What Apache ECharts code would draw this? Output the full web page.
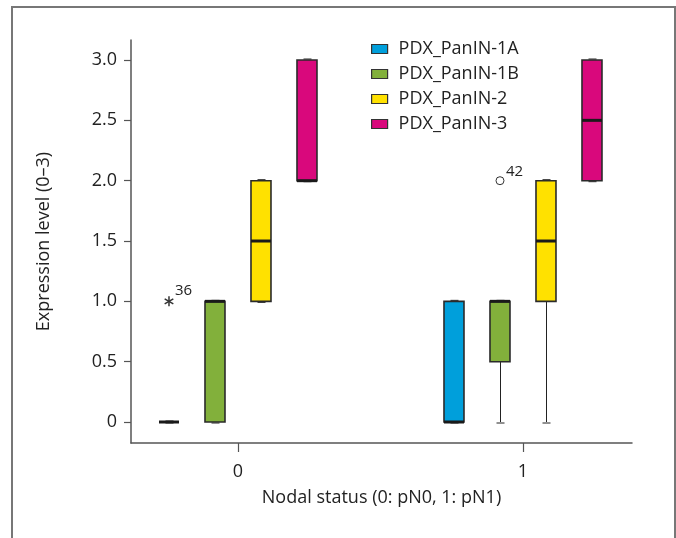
<!DOCTYPE html>
<html>
<head>
<meta charset="utf-8">
<script src="https://cdn.jsdelivr.net/npm/echarts@6/dist/echarts.min.js"></script>
<style>
  html, body { margin: 0; padding: 0; background: #fff; }
  #chart { width: 676px; height: 538px; }
</style>
</head>
<body>
<div id="chart"></div>
<script>
// groups on the x axis (nodal status)
var groups = [0, 1];
var seriesNames = ['PDX_PanIN-1A', 'PDX_PanIN-1B', 'PDX_PanIN-2', 'PDX_PanIN-3'];
var seriesColors = ['#009fdb', '#82b03b', '#ffe100', '#d9087c'];

// box stats per series, one row per group: [min, Q1, median, Q3, max]
var stats1A = [[0, 0, 0, 0, 0], [0, 0, 0, 1, 1]];
var stats1B = [[0, 0, 1, 1, 1], [0, 0.5, 1, 1, 1]];
var stats2 = [[1, 1, 1.5, 2, 2], [0, 1, 1.5, 2, 2]];
var stats3 = [[2, 2, 2, 3, 3], [2, 2, 2.5, 3, 3]];
var allStats = [stats1A, stats1B, stats2, stats3];

// outliers
var outlierGroup = [0, 1];
var outlierSeries = [0, 1];
var outlierValue = [1.0, 2.0];
var outlierCase = ['36', '42'];
var outlierKind = ['extreme', 'outlier'];

var yTicks = [0, 0.5, 1, 1.5, 2, 2.5, 3];

var FONT = 'Open Sans';
var SLOT = 46;   // px between neighbouring boxes
var HALF = 10;   // half box width

function boxRender(params, api) {
  var off = (params.seriesIndex - 1.5) * SLOT;
  var x = api.coord([api.value(0), 0])[0] + off;
  var xc = Math.round(x) + 0.5; // crisp whisker
  function yy(i) { return api.coord([0, api.value(i)])[1]; }
  var yMin = yy(1), yQ1 = yy(2), yMed = yy(3), yQ3 = yy(4), yMax = yy(5);
  var color = seriesColors[params.seriesIndex];
  var wStyle = { stroke: '#222', lineWidth: 1 };
  var kids = [];
  if (yQ1 !== yMin) {
    kids.push({ type: 'line', shape: { x1: xc, y1: yQ1, x2: xc, y2: yMin }, style: wStyle });
  }
  if (yQ3 !== yMax) {
    kids.push({ type: 'line', shape: { x1: xc, y1: yQ3, x2: xc, y2: yMax }, style: wStyle });
  }
  kids.push({ type: 'line', shape: { x1: xc - 4, y1: yMin + 1, x2: xc + 4, y2: yMin + 1 }, style: wStyle });
  kids.push({ type: 'line', shape: { x1: xc - 4, y1: yMax - 1, x2: xc + 4, y2: yMax - 1 }, style: wStyle });
  if (yQ1 !== yQ3) {
    kids.push({
      type: 'rect',
      shape: { x: x - HALF, y: yQ3, width: HALF * 2, height: yQ1 - yQ3 },
      style: { fill: color, stroke: '#2a2a2a', lineWidth: 1.6 }
    });
  }
  kids.push({
    type: 'line',
    shape: { x1: x - HALF, y1: yMed, x2: x + HALF, y2: yMed },
    style: { stroke: '#1a1a1a', lineWidth: 3 }
  });
  return { type: 'group', children: kids };
}

function outlierRender(params, api) {
  var si = api.value(1);
  var off = (si - 1.5) * SLOT;
  var p = api.coord([api.value(0), api.value(2)]);
  var x = p[0] + off, y = p[1];
  var idx = params.dataIndex;
  var kids = [];
  if (outlierKind[idx] === 'extreme') {
    var r = 5;
    for (var k = 0; k < 3; k++) {
      var a = Math.PI / 2 + k * Math.PI / 3;
      kids.push({
        type: 'line',
        shape: { x1: x - r * Math.cos(a), y1: y - r * Math.sin(a), x2: x + r * Math.cos(a), y2: y + r * Math.sin(a) },
        style: { stroke: '#333', lineWidth: 1.5 }
      });
    }
    kids.push({
      type: 'text', x: x + 6, y: y - 3,
      style: { text: outlierCase[idx], fill: '#222', font: '15px "' + FONT + '"', textVerticalAlign: 'bottom' }
    });
  } else {
    kids.push({
      type: 'circle', shape: { cx: x, cy: y, r: 4 },
      style: { fill: '#fff', stroke: '#333', lineWidth: 1 }
    });
    kids.push({
      type: 'text', x: x + 6, y: y - 1,
      style: { text: outlierCase[idx], fill: '#222', font: '15px "' + FONT + '"', textVerticalAlign: 'bottom' }
    });
  }
  return { type: 'group', children: kids };
}

var series = seriesNames.map(function (name, i) {
  return {
    name: name,
    type: 'custom',
    renderItem: boxRender,
    itemStyle: { color: seriesColors[i] },
    encode: { x: 0, y: [1, 2, 3, 4, 5] },
    data: groups.map(function (g, j) { return [g].concat(allStats[i][j]); }),
    z: 3
  };
});
series.push({
  name: 'outliers',
  type: 'custom',
  renderItem: outlierRender,
  encode: { x: 0, y: 2 },
  data: outlierGroup.map(function (g, j) {
    return [g, outlierSeries[j], outlierValue[j]];
  }),
  z: 4
});

var chart = echarts.init(document.getElementById('chart'));
chart.setOption({
  backgroundColor: '#fff',
  animation: false,
  textStyle: { fontFamily: FONT },
  grid: { left: 131, right: 44, top: 40, bottom: 95 },
  legend: {
    orient: 'vertical',
    left: 366,
    top: 35,
    itemWidth: 16,
    itemHeight: 9,
    itemGap: 7,
    icon: 'rect',
    data: seriesNames,
    itemStyle: { borderColor: '#333', borderWidth: 1.2 },
    textStyle: { fontFamily: FONT, fontSize: 18, color: '#222', padding: [0, 0, 0, 6] }
  },
  xAxis: {
    type: 'value',
    min: -0.3754,
    max: 1.3825,
    splitLine: { show: false },
    axisLine: { onZero: false, lineStyle: { color: '#555', width: 1.5 } },
    axisTick: { customValues: groups, length: 9, lineStyle: { color: '#555', width: 1.2 } },
    axisLabel: { customValues: groups, margin: 20, fontSize: 18, color: '#222', fontFamily: FONT },
    name: 'Nodal status (0: pN0, 1: pN1)',
    nameLocation: 'middle',
    nameGap: 46,
    nameTextStyle: { fontSize: 18, color: '#222', fontFamily: FONT }
  },
  yAxis: {
    type: 'value',
    min: -0.174,
    max: 3.166,
    splitLine: { show: false },
    axisLine: { show: true, onZero: false, lineStyle: { color: '#555', width: 1.5 } },
    axisTick: { show: true, customValues: yTicks, length: 7, lineStyle: { color: '#555', width: 1.2 } },
    axisLabel: {
      customValues: yTicks, margin: 14, fontSize: 18, color: '#222', fontFamily: FONT,
      formatter: function (v) { return v === 0 ? '0' : v.toFixed(1); }
    },
    name: 'Expression level (0–3)',
    nameLocation: 'middle',
    nameGap: 78,
    nameTextStyle: { fontSize: 18, color: '#222', fontFamily: FONT }
  },
  graphic: [{
    type: 'polyline',
    shape: { points: [[12, 538], [12, 7], [675, 7], [675, 538]] },
    style: { stroke: '#777', lineWidth: 2, fill: null },
    silent: true
  }],
  series: series
});
</script>
</body>
</html>
